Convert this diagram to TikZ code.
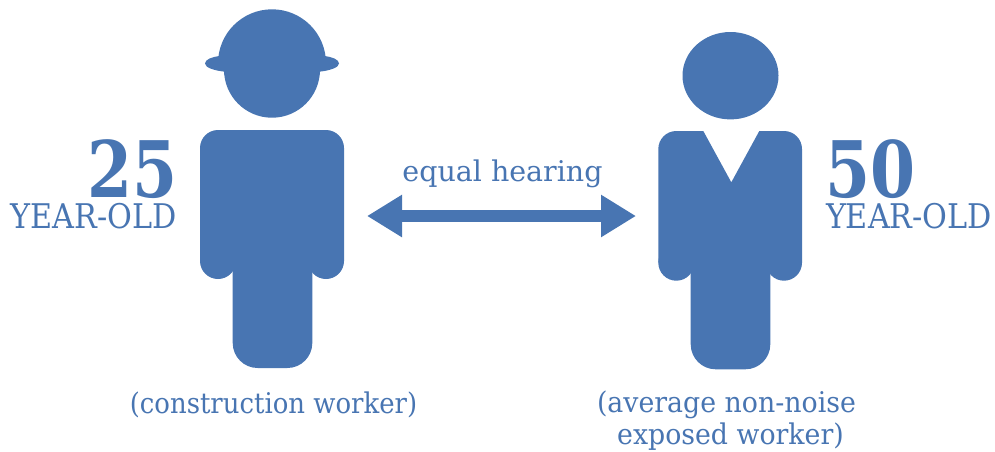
\documentclass[tikz,border=0pt]{standalone}
\usepackage{fontspec}
\usetikzlibrary{arrows.meta}
\newfontfamily\slabfont[FakeStretch=0.89]{DejaVu Serif}
\newfontfamily\slabwide[FakeStretch=1.0]{DejaVu Serif}
\newfontfamily\slabcap[FakeStretch=0.94]{DejaVu Serif}
\newfontfamily\slabjob[FakeStretch=0.91]{DejaVu Serif}
\newfontfamily\slabbold[FakeStretch=0.83]{DejaVu Serif Bold}
\definecolor{workerblue}{RGB}{72,117,178}

\begin{document}
\begin{tikzpicture}[x=1pt,y=-1pt]
	\tikzstyle{every node}=[inner sep=0pt,outer sep=0pt,text=workerblue]
	\tikzstyle{figure}=[fill=workerblue]
	\tikzstyle{age}=[font=\slabbold\fontsize{78}{78}\selectfont]
	\tikzstyle{yearold}=[font=\slabfont\fontsize{34}{34}\selectfont]
	\tikzstyle{caption}=[font=\slabcap\fontsize{28.5}{28.5}\selectfont]
	\useasboundingbox (0,0) rectangle (995,451);

	% left figure
	\begin{scope}
		\clip (200,0) rectangle (344,64);
		\fill[figure] (272,63.3) circle [radius=54];
	\end{scope}
	\fill[figure] (205,63.5) .. controls (205,59.5) and (212,57) .. (219,56)
		-- (325,56) .. controls (332,57) and (339,59.5) .. (339,63.5)
		.. controls (339,67.5) and (330,70.5) .. (320,71.6)
		-- (224,71.6) .. controls (214,70.5) and (205,67.5) .. (205,63.5) -- cycle;
	\fill[figure] (272,69.7) circle [radius=48];
	\fill[figure] (200,261) [rounded corners=18pt] -- (200,130) -- (344,130) [sharp corners] -- (344,261) -- cycle;
	\fill[figure] (218,261) circle [radius=18];
	\fill[figure] (326,261) circle [radius=18];
	\fill[figure,rounded corners=25pt] (232.7,200) rectangle (312.3,368);

	% right figure
	\fill[figure] (730.5,75.7) ellipse [x radius=48,y radius=43.7];
	\fill[figure] (658.3,262.7) [rounded corners=18pt] -- (658.3,131) [sharp corners] -- (703.3,131) -- (731.3,182.3) -- (759.3,131) [rounded corners=18pt] -- (802,131) [sharp corners] -- (802,262.7) -- cycle;
	\fill[figure] (676.3,262.7) circle [radius=18];
	\fill[figure] (784,262.7) circle [radius=18];
	\fill[figure,rounded corners=25pt] (690.7,200) rectangle (770.3,369.3);

	\coordinate (leftend) at (367,216);
	\coordinate (rightend) at (636,216);
	\draw[workerblue,line width=12pt,{Triangle[width=40pt,length=35pt]}-{Triangle[width=40pt,length=35pt]}] (leftend) -- (rightend);

	\node[age,anchor=base east] (agea) at (177.5,197) {25};
	\node[yearold,anchor=base east] (yeara) at (176.5,228) {YEAR-OLD};
	\node[age,anchor=base west] (ageb) at (825,197) {50};
	\node[yearold,anchor=base west] (yearb) at (826,228) {YEAR-OLD};
	\node[caption,font=\slabwide\fontsize{28.5}{28.5}\selectfont,anchor=base] (equal) at (502.5,181) {equal hearing};
	\node[caption,font=\slabjob\fontsize{28.5}{28.5}\selectfont,anchor=base] (joba) at (273.5,413) {(construction worker)};
	\node[caption,anchor=base] (jobb) at (726.5,412) {(average non-noise};
	\node[caption,anchor=base] (jobc) at (730.5,444) {exposed worker)};
\end{tikzpicture}
\end{document}
